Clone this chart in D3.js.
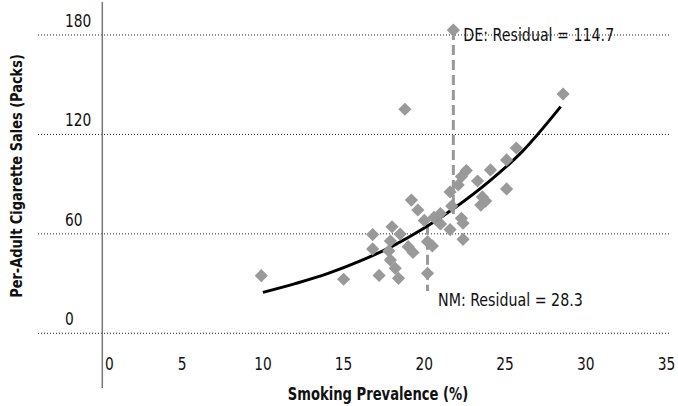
<!DOCTYPE html>
<html>
<head>
<meta charset="utf-8">
<script src="https://cdn.jsdelivr.net/npm/d3@7"></script>
<style>
	body { margin: 0; background: #fff; }
	svg { display: block; }
	text { font-family: "Liberation Sans Narrow", "DejaVu Sans Condensed", sans-serif; font-stretch: condensed; fill: #111; }
</style>
</head>
<body>
<svg id="chart" width="678" height="406"></svg>
<script>
// smoking prevalence (%) vs per-adult cigarette sales (packs), one point per state
var prevalence = [9.9, 15.0, 17.2, 18.4, 18.2, 17.9, 17.8, 16.8, 16.8, 18.0,
	18.5, 17.9, 19.0, 19.3, 19.2, 19.6, 20.0, 20.2, 20.5, 20.2,
	20.6, 21.0, 21.0, 21.6, 21.7, 21.6, 22.1, 22.3, 22.6, 23.3,
	24.1, 23.6, 23.8, 23.5, 22.3, 22.4, 22.4, 25.1, 25.7, 25.1,
	28.6, 18.8, 21.8];
var packs = [34.8, 32.6, 34.9, 33.2, 39.2, 44.2, 49.7, 50.9, 59.6, 64.3,
	59.9, 55.7, 52.3, 48.8, 80.4, 74.4, 68.1, 55.3, 52.7, 36.2,
	69.9, 72.3, 66.0, 62.6, 76.8, 85.3, 89.5, 94.6, 98.2, 91.9,
	98.6, 82.3, 79.8, 77.4, 69.4, 66.4, 56.7, 104.6, 111.8, 87.1,
	144.4, 135.2, 183.0];

// fitted curve
var fitX = [10, 12, 14, 16, 18, 20, 22, 24, 26, 28.45];
var fitY = [24.7, 30, 36, 43.5, 52.5, 63.5, 76.5, 91.5, 109, 136.8];

var xTicks = [0, 5, 10, 15, 20, 25, 30, 35];
var yTicks = [0, 60, 120, 180];

// residual call-outs
var residuals = [
	{x: 21.8, from: 183.0, to: 72, label: 'DE: Residual = 114.7'},
	{x: 20.2, from: 65.5, to: 25.5, label: 'NM: Residual = 28.3'}
];

var svg = d3.select('#chart');

var x = d3.scaleLinear().domain([0, 35]).range([101.5, 666.4]);
var y = d3.scaleLinear().domain([0, 180]).range([333.3, 35]);

// narrow the font a bit to look like the condensed face of the original
function addText(px, py, str, opt){
	opt = opt || {};
	var tr = 'translate(' + px + ',' + py + ')' + (opt.rotate ? ' rotate(' + opt.rotate + ')' : '') + ' scale(' + (opt.sx || 0.9) + ',1)';
	return svg.append('text')
		.attr('transform', tr)
		.attr('text-anchor', opt.anchor || 'start')
		.style('font-size', (opt.size || 17) + 'px')
		.style('font-weight', opt.bold ? 'bold' : 'normal')
		.text(str);
}

// dotted horizontal gridlines
svg.selectAll('.grid')
	.data(yTicks)
	.enter().append('line')
	.attr('class', 'grid')
	.attr('x1', 38).attr('x2', 670)
	.attr('y1', function(d){ return y(d); })
	.attr('y2', function(d){ return y(d); })
	.attr('stroke', '#222')
	.attr('stroke-width', 1)
	.attr('stroke-dasharray', '1,2');

// y tick labels sit above their gridline, left aligned
yTicks.forEach(function(d){
	addText(65, y(d) - 8, d);
});

// vertical axis line
svg.append('line')
	.attr('x1', x(0) + 0.8).attr('x2', x(0) + 0.8)
	.attr('y1', 2).attr('y2', 388)
	.attr('stroke', '#777')
	.attr('stroke-width', 1.5);

xTicks.forEach(function(d){
	addText(d == 0 ? x(d) + 8 : x(d), 370, d, {anchor: 'middle'});
});

// axis titles
addText(378, 400, 'Smoking Prevalence (%)', {anchor: 'middle', bold: true, sx: 0.86});
addText(22, 176, 'Per-Adult Cigarette Sales (Packs)', {anchor: 'middle', bold: true, size: 16, rotate: -90, sx: 0.9});

// dashed residual lines (behind the points)
svg.selectAll('.resid')
	.data(residuals)
	.enter().append('line')
	.attr('class', 'resid')
	.attr('x1', function(d){ return x(d.x); })
	.attr('x2', function(d){ return x(d.x); })
	.attr('y1', function(d){ return y(d.from); })
	.attr('y2', function(d){ return y(d.to); })
	.attr('stroke', '#999')
	.attr('stroke-width', 3)
	.attr('stroke-dasharray', '10,5');

// fitted curve
var fitData = fitX.map(function(v, i){ return [v, fitY[i]]; });
var line = d3.line()
	.x(function(d){ return x(d[0]); })
	.y(function(d){ return y(d[1]); })
	.curve(d3.curveMonotoneX);

svg.append('path')
	.datum(fitData)
	.attr('d', line)
	.attr('fill', 'none')
	.attr('stroke', '#000')
	.attr('stroke-width', 3);

// diamonds
var r = 6.6;
var diamond = 'M0,' + (-r) + 'L' + r + ',0L0,' + r + 'L' + (-r) + ',0Z';
svg.selectAll('.pt')
	.data(prevalence)
	.enter().append('path')
	.attr('class', 'pt')
	.attr('d', diamond)
	.attr('transform', function(d, i){ return 'translate(' + x(d) + ',' + y(packs[i]) + ')'; })
	.attr('fill', '#999');

// call-out labels
addText(x(residuals[0].x) + 10, 41, residuals[0].label, {sx: 0.93});
addText(438, 306, residuals[1].label, {sx: 0.93});
</script>
</body>
</html>
